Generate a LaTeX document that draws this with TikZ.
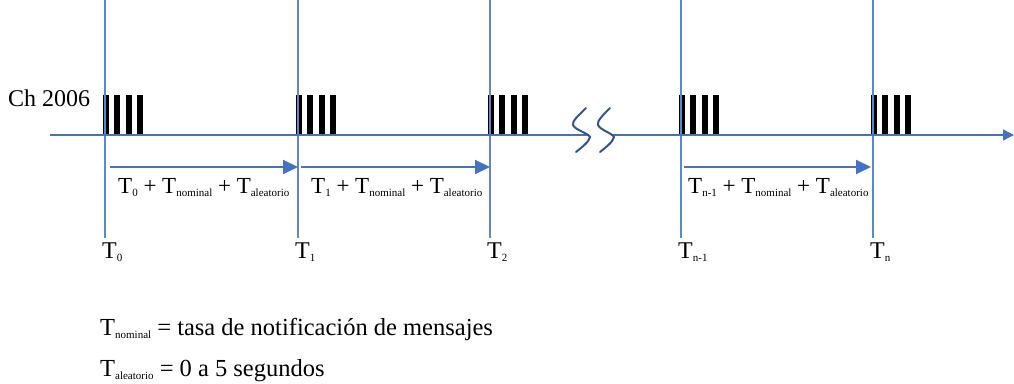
\documentclass[tikz,border=0pt]{standalone}
\usepackage{fontspec}
\setmainfont{Liberation Serif}
\usetikzlibrary{arrows.meta}
\definecolor{lblue}{HTML}{4472C4}
\definecolor{dblue}{HTML}{2F5597}
\newcommand\sbs[1]{\raisebox{-3.5pt}{\fontsize{11}{11}\selectfont #1}}
\begin{document}
\begin{tikzpicture}[x=1pt,y=-1pt,
  vline/.style={draw=lblue!85, line width=1.3pt},
  axisline/.style={draw=lblue, line width=1.4pt},
  ivarrow/.style={draw=lblue, line width=2pt, -{Triangle[length=15pt,width=14pt]}},
  bar/.style={fill=black, draw=none},
  brk/.style={draw=dblue, line width=2pt, line cap=round},
  lbl/.style={anchor=base west, inner sep=0pt, font=\fontsize{23}{23}\selectfont},
  tlbl/.style={anchor=base west, inner sep=0pt, font=\fontsize{24}{24}\selectfont},
  foot/.style={anchor=base west, inner sep=0pt, font=\fontsize{24.5}{26}\selectfont}]
\useasboundingbox (0,0) rectangle (1014,383);
% vertical time lines
\foreach \n/\x in {t0/105, t1/298, t2/490, tn1/681, tn/873}{
  \coordinate (\n top) at (\x,0);
  \coordinate (\n bot) at (\x,238);
}
% pulse bars
\foreach \x in {105,298,490,681,873}{
  \foreach \k in {0,1,2,3}{
    \fill[bar] ({\x-2+\k*11.4},95) rectangle ({\x+4+\k*11.4},135);
  }
}
\foreach \n in {t0,t1,t2,tn1,tn}{
  \draw[vline] (\n top) -- (\n bot);
}
% axis with break
\coordinate (axstart) at (50,135);
\coordinate (brkL) at (589,135);
\coordinate (brkR) at (613,135);
\coordinate (axend) at (1014,135);
\draw[axisline] (axstart) -- (brkL);
\draw[axisline, -{Triangle[length=11pt,width=11pt]}] (brkR) -- (axend);
\draw[brk] (586,108) .. controls (578,116) and (572,121) .. (573,125)
  .. controls (575,130) and (588,133) .. (590,137)
  .. controls (589,142) and (581,148) .. (576,152);
\draw[brk] (610,108) .. controls (602,116) and (597,121) .. (598,125)
  .. controls (600,130) and (612,133) .. (614,137)
  .. controls (613,142) and (605,148) .. (600,152);
% interval arrows
\coordinate (a0s) at (110,167); \coordinate (a0e) at (298,167);
\coordinate (a1s) at (301,167); \coordinate (a1e) at (490,167);
\coordinate (a2s) at (684,167); \coordinate (a2e) at (871,167);
\draw[ivarrow] (a0s) -- (a0e);
\draw[ivarrow] (a1s) -- (a1e);
\draw[ivarrow] (a2s) -- (a2e);
% labels
\node[lbl] (l0) at (118,193) {T\sbs{0} + T\sbs{nominal} + T\sbs{aleatorio}};
\node[lbl] (l1) at (311,193) {T\sbs{1} + T\sbs{nominal} + T\sbs{aleatorio}};
\node[lbl] (l2) at (688,193) {T\sbs{n-1} + T\sbs{nominal} + T\sbs{aleatorio}};
\node[anchor=base west, inner sep=0pt, font=\fontsize{24}{24}\selectfont] (ch) at (8,106) {Ch 2006};
% time labels
\node[tlbl] (T0) at (102,258) {T\sbs{0}};
\node[tlbl] (T1) at (295,258) {T\sbs{1}};
\node[tlbl] (T2) at (487,258) {T\sbs{2}};
\node[tlbl] (Tn1) at (678,258) {T\sbs{n-1}};
\node[tlbl] (Tn) at (870,258) {T\sbs{n}};
% footnotes
\node[foot] (f1) at (100,335) {T\sbs{nominal} = tasa de notificación de mensajes};
\node[foot] (f2) at (100,376) {T\sbs{aleatorio} = 0 a 5 segundos};
\end{tikzpicture}
\end{document}
